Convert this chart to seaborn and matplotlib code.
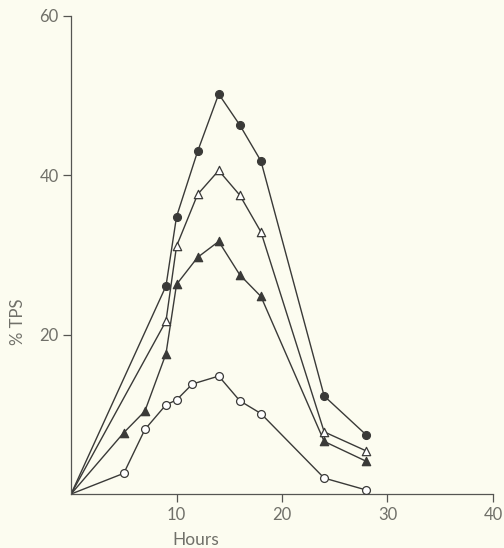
import matplotlib
matplotlib.use("Agg")
import matplotlib.pyplot as plt
import seaborn as sns
import pandas as pd

# values (hours vs % TPS)
hours_filled_circle = [0, 9, 10, 12, 14, 16, 18, 24, 28]
tps_filled_circle = [0, 26.1, 34.8, 43.0, 50.2, 46.3, 41.8, 12.3, 7.4]

hours_open_tri = [0, 9, 10, 12, 14, 16, 18, 24, 28]
tps_open_tri = [0, 21.7, 31.1, 37.6, 40.6, 37.5, 32.9, 7.8, 5.4]

hours_filled_tri = [0, 5, 7, 9, 10, 12, 14, 16, 18, 24, 28]
tps_filled_tri = [0, 7.7, 10.4, 17.6, 26.3, 29.7, 31.7, 27.5, 24.8, 6.6, 4.1]

hours_open_circle = [0, 5, 7, 9, 10, 11.5, 14, 16, 18, 24, 28]
tps_open_circle = [0, 2.6, 8.1, 11.2, 11.8, 13.8, 14.8, 11.7, 10.1, 2.0, 0.5]

x_ticks = [10, 20, 30, 40]
y_ticks = [20, 40, 60]

bg = "#fcfcf0"
ink = "#3a3a38"
text_col = "#707069"

sns.set_theme(style="ticks")
plt.rcParams["font.family"] = ["Lato", "DejaVu Sans"]

fig = plt.figure(figsize=(5.04, 5.48), dpi=100, facecolor=bg)
ax = fig.add_axes([0.141, 0.0985, 0.837, 0.8725])
ax.set_facecolor(bg)

series = [
    (hours_filled_circle, tps_filled_circle, "o", ink),
    (hours_open_tri, tps_open_tri, "^", "white"),
    (hours_filled_tri, tps_filled_tri, "^", ink),
    (hours_open_circle, tps_open_circle, "o", "white"),
]

for hx, hy, mk, face in series:
    df = pd.DataFrame({"Hours": hx, "TPS": hy})
    sns.lineplot(data=df, x="Hours", y="TPS", ax=ax, color=ink, linewidth=1.0,
                 estimator=None, sort=False)
    # origin has no marker, only the lines start there
    sns.scatterplot(data=df.iloc[1:], x="Hours", y="TPS", ax=ax, marker=mk,
                    s=32 if mk == "o" else 36, facecolor=face, edgecolor=ink,
                    linewidth=0.9, zorder=3)

ax.set_xlim(0, 40)
ax.set_ylim(0, 60)
ax.set_xticks(x_ticks)
ax.set_yticks(y_ticks)
sns.despine(ax=ax)
for sp in ["left", "bottom"]:
    ax.spines[sp].set_color("#555552")
    ax.spines[sp].set_linewidth(0.9)
ax.tick_params(axis="both", direction="out", length=6, width=0.9,
               color="#555552", labelcolor=text_col, labelsize=12, pad=3)

ax.set_xlabel("Hours", color=text_col, fontsize=12.5)
ax.set_ylabel("% TPS", color=text_col, fontsize=12)
ax.xaxis.set_label_coords(0.296, -0.08)
ax.yaxis.set_label_coords(-0.107, 0.36)

fig.savefig("out.png", dpi=100, facecolor=bg)
